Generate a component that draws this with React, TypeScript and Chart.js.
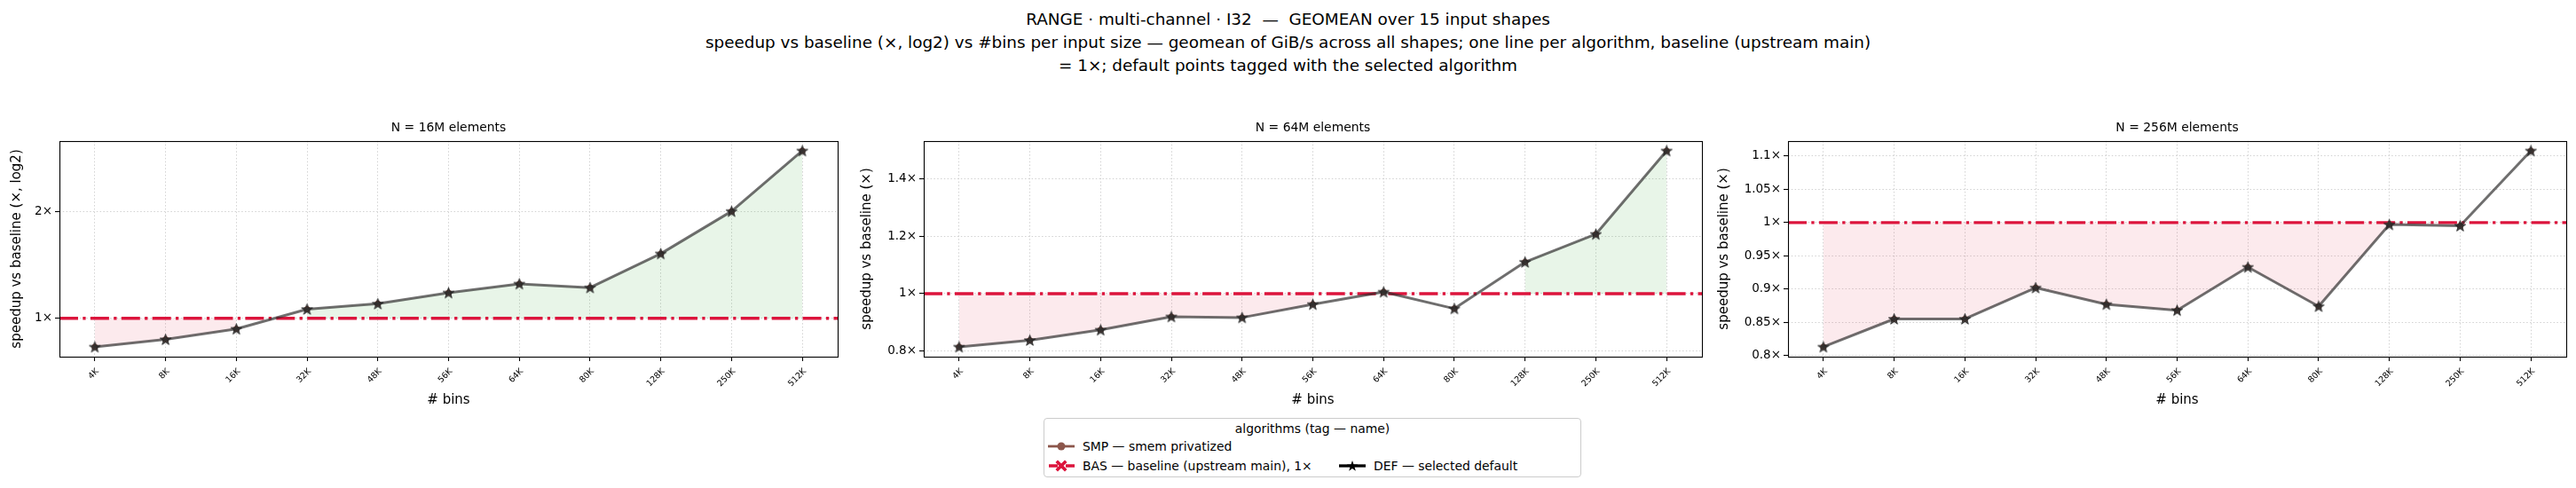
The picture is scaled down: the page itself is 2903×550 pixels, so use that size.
import React, { useEffect, useRef } from "react";
import { Chart, registerables } from "chart.js";

Chart.register(...registerables);

const FONT = "'DejaVu Sans', 'Liberation Sans', sans-serif";

// x axis: number of bins
const BINS = ["4K", "8K", "16K", "32K", "48K", "56K", "64K", "80K", "128K", "250K", "512K"];

// geomean speedup vs baseline, one list per input size
const SPEEDUP_16M = [0.831, 0.872, 0.933, 1.061, 1.099, 1.18, 1.25, 1.22, 1.52, 2.0, 2.96];
const SPEEDUP_64M = [0.815, 0.838, 0.874, 0.92, 0.917, 0.963, 1.006, 0.948, 1.11, 1.207, 1.497];
const SPEEDUP_256M = [0.813, 0.855, 0.855, 0.902, 0.877, 0.868, 0.933, 0.874, 0.997, 0.995, 1.108];

const BASELINE = 1;

const TICKS_16M = [1, 2];
const TICKS_64M = [0.8, 1, 1.2, 1.4];
const TICKS_256M = [0.8, 0.85, 0.9, 0.95, 1, 1.05, 1.1];

const PANEL_TITLES = ["N = 16M elements", "N = 64M elements", "N = 256M elements"];
const Y_TITLES = ["speedup vs baseline (×, log2)", "speedup vs baseline (×)", "speedup vs baseline (×)"];
const X_TITLE = "# bins";

const SUPTITLE = [
  "RANGE · multi-channel · I32  —  GEOMEAN over 15 input shapes",
  "speedup vs baseline (×, log2) vs #bins per input size — geomean of GiB/s across all shapes; one line per algorithm, baseline (upstream main)",
  "= 1×; default points tagged with the selected algorithm",
];

const LEGEND_TITLE = "algorithms (tag — name)";
const LEGEND_TAGS = ["SMP", "BAS", "DEF"];
const LEGEND_NAMES = ["smem privatized", "baseline (upstream main), 1×", "selected default"];

const BROWN = "#8c564b";
const CRIMSON = "#dc143c";
const GAIN_FILL = "rgba(44,160,44,0.11)";
const LOSS_FILL = "rgba(220,20,60,0.09)";

// layout (px in the page)
const FRAME_W = 877;
const CANVAS_TOP = 120;
const CANVAS_H = 350;
const RIGHT_PAD = 10;

type PanelCfg = {
  values: number[];
  ticks: number[];
  log: boolean;
  title: string;
  yTitle: string;
  frameLeft: number;
  yW: number;
  yPad: number;
};

const PANELS: PanelCfg[] = [
  { values: SPEEDUP_16M, ticks: TICKS_16M, log: true, title: PANEL_TITLES[0], yTitle: Y_TITLES[0], frameLeft: 67, yW: 67, yPad: 10.6 },
  { values: SPEEDUP_64M, ticks: TICKS_64M, log: false, title: PANEL_TITLES[1], yTitle: Y_TITLES[1], frameLeft: 1041, yW: 85, yPad: 12.6 },
  { values: SPEEDUP_256M, ticks: TICKS_256M, log: false, title: PANEL_TITLES[2], yTitle: Y_TITLES[2], frameLeft: 2015, yW: 90, yPad: 9.6 },
];

// matplotlib-like 5% margins around data + baseline
function limits(values: number[], log: boolean) {
  const f = log ? Math.log2 : (v: number) => v;
  const inv = log ? (v: number) => Math.pow(2, v) : (v: number) => v;
  const all = [...values, BASELINE].map(f);
  const lo = Math.min(...all);
  const hi = Math.max(...all);
  const m = (hi - lo) * 0.05;
  return { min: inv(lo - m), max: inv(hi + m) };
}

function starPoints(cx: number, cy: number, R: number) {
  const pts: [number, number][] = [];
  for (let k = 0; k < 10; k++) {
    const a = -Math.PI / 2 + (k * Math.PI) / 5;
    const r = k % 2 === 0 ? R : R * 0.4;
    pts.push([cx + r * Math.cos(a), cy + r * Math.sin(a)]);
  }
  return pts;
}

function makeStar(size: number, fill: string, stroke: string) {
  const c = document.createElement("canvas");
  c.width = size;
  c.height = size;
  const g = c.getContext("2d")!;
  const pts = starPoints(size / 2, size / 2 + 0.5, size / 2 - 1);
  g.beginPath();
  pts.forEach(([x, y], i) => (i ? g.lineTo(x, y) : g.moveTo(x, y)));
  g.closePath();
  g.fillStyle = fill;
  g.fill();
  g.strokeStyle = stroke;
  g.lineWidth = 1;
  g.stroke();
  return c;
}

const framePlugin = {
  id: "frame",
  afterDatasetDraw(chart: any, args: any) {
    // baseline goes over the fills, under the lines
    if (args.index !== 1) return;
    const { ctx, chartArea } = chart;
    const y = chart.scales.y.getPixelForValue(BASELINE);
    ctx.save();
    ctx.strokeStyle = CRIMSON;
    ctx.lineWidth = 3.3;
    ctx.setLineDash([21, 5.3, 3.3, 5.3]);
    ctx.beginPath();
    ctx.moveTo(chartArea.left, y);
    ctx.lineTo(chartArea.right, y);
    ctx.stroke();
    ctx.restore();
  },
  afterDraw(chart: any) {
    const { ctx, chartArea } = chart;
    ctx.save();
    ctx.strokeStyle = "#000";
    ctx.lineWidth = 1.1;
    ctx.strokeRect(
      Math.round(chartArea.left) + 0.5,
      Math.round(chartArea.top) + 0.5,
      Math.round(chartArea.right - chartArea.left),
      Math.round(chartArea.bottom - chartArea.top)
    );
    ctx.restore();
  },
};

function Panel({ cfg }: { cfg: PanelCfg }) {
  const canvasRef = useRef<HTMLCanvasElement | null>(null);
  const width = cfg.yW + FRAME_W + RIGHT_PAD;

  useEffect(() => {
    if (!canvasRef.current) return;
    const star = makeStar(15, "rgba(45,45,45,0.82)", "rgba(30,30,30,0.85)");
    const { min, max } = limits(cfg.values, cfg.log);
    const grid = {
      color: "#d2d2d2",
      lineWidth: 1,
      tickColor: "#000",
      tickLength: 5,
      tickWidth: 1.1,
    };
    const border = { display: false, dash: [1.5, 2.3] };

    const chart = new Chart(canvasRef.current, {
      type: "line",
      data: {
        labels: BINS,
        datasets: [
          {
            label: "gain",
            data: cfg.values.map((v) => (v >= BASELINE ? v : null)),
            fill: { target: { value: BASELINE } },
            backgroundColor: GAIN_FILL,
            borderColor: "transparent",
            borderWidth: 0,
            pointRadius: 0,
            order: 11,
          },
          {
            label: "loss",
            data: cfg.values.map((v) => (v < BASELINE ? v : null)),
            fill: { target: { value: BASELINE } },
            backgroundColor: LOSS_FILL,
            borderColor: "transparent",
            borderWidth: 0,
            pointRadius: 0,
            order: 10,
          },
          {
            label: "SMP",
            data: cfg.values,
            borderColor: "rgba(140,86,75,0.12)",
            borderWidth: 1,
            pointStyle: "circle",
            pointRadius: 3.5,
            pointBackgroundColor: BROWN,
            pointBorderColor: BROWN,
            pointBorderWidth: 0,
            fill: false,
            order: 1,
          },
          {
            label: "DEF",
            data: cfg.values,
            borderColor: "rgba(40,40,40,0.66)",
            borderWidth: 3,
            borderJoinStyle: "round",
            borderCapStyle: "round",
            pointStyle: star as any,
            pointRadius: 7,
            fill: false,
            order: 0,
          },
        ],
      },
      options: {
        animation: false,
        responsive: false,
        events: [],
        layout: { padding: { left: 0, right: RIGHT_PAD, top: 0, bottom: 8 } },
        plugins: {
          legend: { display: false },
          tooltip: { enabled: false },
          title: {
            display: true,
            text: cfg.title,
            fullSize: false,
            color: "#000",
            font: { family: FONT, size: 13.9, weight: "normal", lineHeight: 1.2 },
            padding: { top: 16.2, bottom: 6 },
          },
        },
        scales: {
          x: {
            type: "category",
            offset: true,
            grid,
            border,
            ticks: {
              color: "#000",
              font: { family: FONT, size: 9.5 },
              maxRotation: 45,
              minRotation: 45,
              autoSkip: false,
              padding: 6,
              labelOffset: 3,
            },
            title: {
              display: true,
              text: X_TITLE,
              color: "#000",
              font: { family: FONT, size: 15, lineHeight: 1.2 },
              padding: { top: 4, bottom: 2 },
            },
            afterFit: (s: any) => {
              s.height = 60;
            },
          },
          y: {
            type: cfg.log ? "logarithmic" : "linear",
            min,
            max,
            grid,
            border,
            afterBuildTicks: (s: any) => {
              s.ticks = cfg.ticks.map((value) => ({ value }));
            },
            ticks: {
              color: "#000",
              font: { family: FONT, size: 13.5 },
              padding: 3,
              autoSkip: false,
              callback: (v: any) => `${Number(v)}×`,
            },
            title: {
              display: true,
              text: cfg.yTitle,
              color: "#000",
              font: { family: FONT, size: 15, lineHeight: 1.2 },
              padding: { top: cfg.yPad, bottom: 0 },
            },
            afterFit: (s: any) => {
              s.width = cfg.yW;
            },
          },
        },
      },
      plugins: [framePlugin],
    } as any);
    return () => chart.destroy();
  }, [cfg]);

  return (
    <canvas
      ref={canvasRef}
      width={width}
      height={CANVAS_H}
      style={{ position: "absolute", left: cfg.frameLeft - cfg.yW, top: CANVAS_TOP, width, height: CANVAS_H }}
    />
  );
}

function Handle({ tag }: { tag: string }) {
  if (tag === "SMP") {
    return (
      <svg width={32} height={14}>
        <line x1={1} y1={7} x2={31} y2={7} stroke={BROWN} strokeWidth={2.8} />
        <circle cx={16} cy={7} r={4.5} fill={BROWN} />
      </svg>
    );
  }
  if (tag === "BAS") {
    return (
      <svg width={32} height={14}>
        <line x1={2} y1={7} x2={31} y2={7} stroke={CRIMSON} strokeWidth={3.3} strokeDasharray="10 3 3 3" />
        <path d="M12 3 L20 11 M20 3 L12 11" stroke={CRIMSON} strokeWidth={3.6} strokeLinecap="square" />
      </svg>
    );
  }
  const pts = starPoints(16, 7.5, 6.5).map(([x, y]) => `${x.toFixed(2)},${y.toFixed(2)}`).join(" ");
  return (
    <svg width={32} height={14}>
      <line x1={1} y1={7} x2={31} y2={7} stroke="#000" strokeWidth={3.3} />
      <polygon points={pts} fill="#000" />
    </svg>
  );
}

function Legend() {
  // two columns; the short column sits at the bottom, as matplotlib does
  const slots = [
    { left: 4, top: 23 },
    { left: 4, top: 45 },
    { left: 332, top: 45 },
  ];
  return (
    <div
      style={{
        position: "absolute",
        left: 1176,
        top: 471,
        width: 606,
        height: 67,
        boxSizing: "border-box",
        border: "1px solid #cccccc",
        borderRadius: 4,
        background: "rgba(255,255,255,0.8)",
        font: `13.9px ${FONT}`,
        color: "#000",
      }}
    >
      <div style={{ position: "absolute", left: 0, right: 0, top: 2, textAlign: "center", lineHeight: "18px" }}>
        {LEGEND_TITLE}
      </div>
      {LEGEND_TAGS.map((tag, i) => (
        <div
          key={tag}
          style={{ position: "absolute", left: slots[i].left - 1, top: slots[i].top - 1, height: 18, display: "flex", alignItems: "center", whiteSpace: "pre" }}
        >
          <Handle tag={tag} />
          <span style={{ marginLeft: 8, lineHeight: "18px" }}>{`${tag} — ${LEGEND_NAMES[i]}`}</span>
        </div>
      ))}
    </div>
  );
}

export default function App() {
  return (
    <div style={{ position: "absolute", left: 0, top: 0, width: 2903, height: 550, background: "#fff", overflow: "hidden" }}>
      <div
        style={{
          position: "absolute",
          left: 0,
          top: 9,
          width: 2903,
          textAlign: "center",
          font: `18.4px ${FONT}`,
          lineHeight: "26px",
          color: "#000",
          whiteSpace: "pre",
        }}
      >
        {SUPTITLE.map((line) => (
          <div key={line}>{line}</div>
        ))}
      </div>
      {PANELS.map((p) => (
        <Panel key={p.title} cfg={p} />
      ))}
      <Legend />
    </div>
  );
}
